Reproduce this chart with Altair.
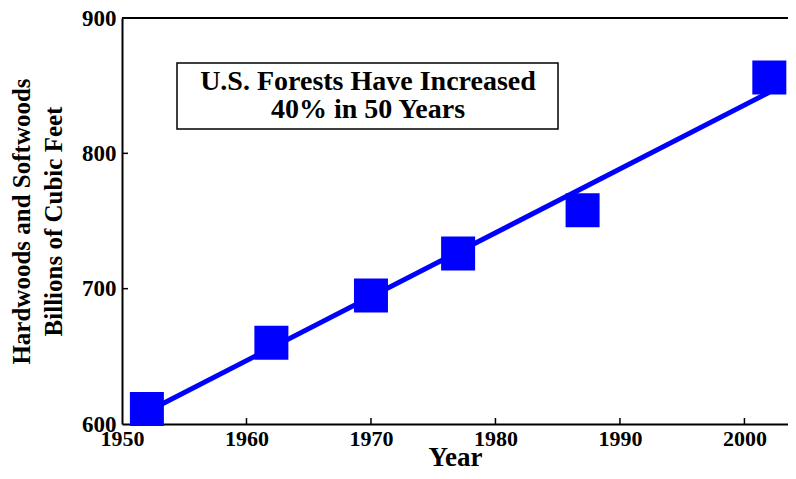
import altair as alt
import pandas as pd

# ---- data ----
years = [1952, 1962, 1970, 1977, 1987, 2002]
volume = [611, 660, 695, 726, 758, 856]
x_ticks = [1950, 1960, 1970, 1980, 1990, 2000]
y_ticks = [600, 700, 800, 900]
note_lines = ["U.S. Forests Have Increased", "40% in 50 Years"]
y_title = ["Hardwoods and Softwoods", "Billions of Cubic Feet"]
x_title = "Year"

FONT = "Liberation Serif"
BLUE = "#0000ff"
W, H = 666, 406

df = pd.DataFrame({"Year": years, "Volume": volume})
xt = pd.DataFrame({"Year": x_ticks[1:]})
yt = pd.DataFrame({"Volume": y_ticks[1:-1]})
one = pd.DataFrame({"k": [0]})

xs = alt.Scale(domain=[1950, 2003.5], nice=False, zero=False)
ys = alt.Scale(domain=[600, 900], nice=False, zero=False)

x_axis = alt.Axis(values=x_ticks, format="d", tickSize=0, labelPadding=4,
                  title=x_title, titleFontSize=27, titleY=41,
                  titleBaseline="alphabetic",
                  labelFontSize=22, grid=False, domainColor="black",
                  domainWidth=2, labelColor="black", titleColor="black",
                  labelFont=FONT, titleFont=FONT, labelFontWeight="bold",
                  titleFontWeight="bold", labelFlush=False)
y_axis = alt.Axis(values=y_ticks, tickSize=0, labelPadding=6,
                  title=y_title, titleFontSize=25, titleLineHeight=32,
                  labelFontSize=23, grid=False, domainColor="black",
                  domainWidth=2, labelColor="black", titleColor="black",
                  labelFont=FONT, titleFont=FONT, labelFontWeight="bold",
                  titleFontWeight="bold", labelFlush=False,
                  titleX=-101, titleY=H / 2, titleAngle=-90,
                  titleAlign="center", titleBaseline="middle")

points = alt.Chart(df).mark_point(shape="square", filled=True, size=1156,
                                   color=BLUE, opacity=1).encode(
    x=alt.X("Year:Q", scale=xs, axis=x_axis),
    y=alt.Y("Volume:Q", scale=ys, axis=y_axis),
)

trend = alt.Chart(df).transform_regression(
    "Year", "Volume", extent=[years[0], years[-1]]
).mark_line(color=BLUE, strokeWidth=5, strokeCap="butt").encode(
    x=alt.X("Year:Q", scale=xs),
    y=alt.Y("Volume:Q", scale=ys),
)

xticks = alt.Chart(xt).mark_rule(color="black", strokeWidth=1.5).encode(
    x=alt.X("Year:Q", scale=xs), y=alt.value(H - 6), y2=alt.value(H))
yticks = alt.Chart(yt).mark_rule(color="black", strokeWidth=1.5).encode(
    y=alt.Y("Volume:Q", scale=ys), x=alt.value(0), x2=alt.value(6))
top = alt.Chart(one).mark_rule(color="black", strokeWidth=2).encode(
    x=alt.value(0), x2=alt.value(W), y=alt.value(0))

box = alt.Chart(one).mark_rect(fill="white", stroke="black",
                               strokeWidth=1.5).encode(
    x=alt.value(55), x2=alt.value(436), y=alt.value(45), y2=alt.value(111))
note = alt.Chart(one).mark_text(font=FONT, fontSize=28, fontWeight="bold",
                                color="black", align="center",
                                baseline="middle", lineHeight=28).encode(
    x=alt.value(246), y=alt.value(64), text=alt.value(note_lines))

chart = alt.layer(trend, points, xticks, yticks, top, box, note).properties(
    width=W, height=H,
    autosize=alt.AutoSizeParams(type="none"),
    padding={"left": 114, "top": 10, "right": 0, "bottom": 42},
).configure_view(stroke=None)

chart.save("out.html", embed_options={"renderer": "svg", "actions": False})
